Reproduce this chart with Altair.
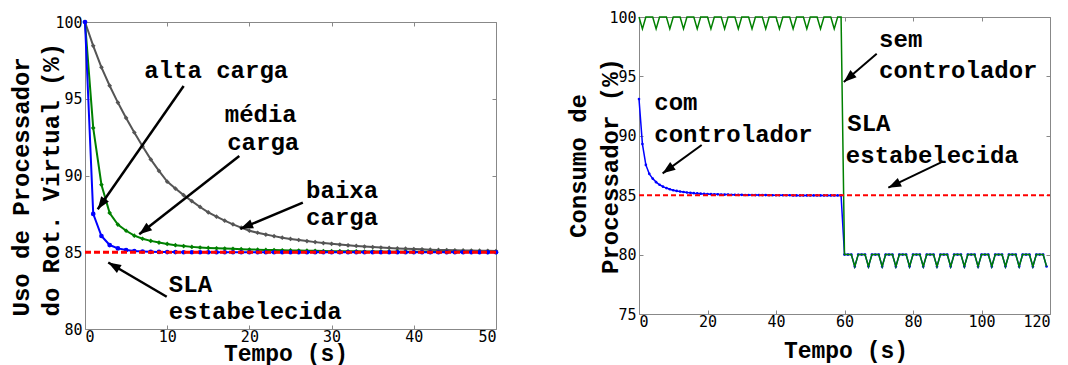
import math
import altair as alt
import pandas as pd

# ---------------- data: left panel ----------------
t_left = list(range(51))
alta = [100, 87.5, 86.06, 85.47, 85.25, 85.14, 85.08, 85.05, 85.03, 85.02, 85.01,
        85.01, 85.0, 85.0, 85.0, 85.0, 85.0, 85.0, 85.0, 85.0, 85.0,
        85.0, 85.0, 85.0, 85.0, 85.0, 85.0, 85.0, 85.0, 85.0, 85.0,
        85.0, 85.0, 85.0, 85.0, 85.0, 85.0, 85.0, 85.0, 85.0, 85.0,
        85.0, 85.0, 85.0, 85.0, 85.0, 85.0, 85.0, 85.0, 85.0, 85.0]
media = [100, 93.1, 89.4, 87.56, 86.8, 86.4, 86.08, 85.88, 85.74, 85.63, 85.54,
         85.46, 85.4, 85.35, 85.31, 85.28, 85.26, 85.24, 85.22, 85.2, 85.18,
         85.17, 85.15, 85.14, 85.13, 85.12, 85.11, 85.1, 85.09, 85.08, 85.07,
         85.07, 85.06, 85.06, 85.05, 85.05, 85.05, 85.04, 85.04, 85.04, 85.03,
         85.03, 85.03, 85.03, 85.02, 85.02, 85.02, 85.02, 85.02, 85.01, 85.01]
baixa = [100, 98.45, 97.05, 95.85, 94.75, 93.75, 92.8, 91.9, 91.05, 90.3, 89.6,
         89.15, 88.72, 88.33, 87.95, 87.6, 87.32, 87.06, 86.82, 86.6, 86.4,
         86.27, 86.15, 86.05, 85.95, 85.87, 85.8, 85.73, 85.66, 85.6, 85.55,
         85.5, 85.45, 85.41, 85.37, 85.34, 85.31, 85.28, 85.25, 85.23, 85.21,
         85.19, 85.17, 85.15, 85.14, 85.13, 85.12, 85.11, 85.1, 85.09, 85.08]
sla_left_t = [0, 50]
sla_left_v = [85, 85]

left_text = ["alta carga", "média", "carga", "baixa", "carga", "SLA", "estabelecida"]
left_text_x = [7.2, 17.0, 17.3, 26.9, 26.9, 10.2, 10.2]
left_text_y = [96.33, 93.5, 91.66, 88.55, 86.78, 82.41, 80.63]
left_arrow_x1 = [12.0, 18.77, 26.5, 9.94]
left_arrow_y1 = [95.83, 91.27, 88.23, 82.1]
left_arrow_x2 = [1.55, 6.6, 18.9, 2.83]
left_arrow_y2 = [87.8, 86.17, 86.53, 84.33]

# ---------------- data: right panel ----------------
t_right = list(range(120))
com_ctrl = [93.1, 89.3, 87.55, 86.8, 86.4, 86.1, 85.88, 85.72, 85.6, 85.5,
            85.42, 85.36, 85.31, 85.27, 85.23, 85.2, 85.17, 85.15, 85.13, 85.11,
            85.1, 85.09, 85.08, 85.07, 85.06, 85.05, 85.05, 85.04, 85.04, 85.03,
            85.03, 85.02, 85.02, 85.02, 85.01, 85.01, 85.01, 85.01, 85.0, 85.0,
            85.0, 85.0, 85.0, 85.0, 85.0, 84.98, 84.98, 84.98, 84.98, 84.98,
            84.98, 84.98, 84.98, 84.98, 84.98, 84.98, 84.98, 84.98, 84.98, 84.98,
            80, 80, 80, 79, 80, 80, 80, 79, 80, 80, 80, 79, 80, 80, 80, 79,
            80, 80, 80, 79, 80, 80, 80, 79, 80, 80, 80, 79, 80, 80, 80, 79,
            80, 80, 80, 79, 80, 80, 80, 79, 80, 80, 80, 79, 80, 80, 80, 79,
            80, 80, 80, 79, 80, 80, 80, 79, 80, 80, 80, 79]
sem_ctrl = [100, 99, 100, 100, 100, 99, 100, 100, 100, 99, 100, 100,
            100, 99, 100, 100, 100, 99, 100, 100, 100, 99, 100, 100,
            100, 99, 100, 100, 100, 99, 100, 100, 100, 99, 100, 100,
            100, 99, 100, 100, 100, 99, 100, 100, 100, 99, 100, 100,
            100, 99, 100, 100, 100, 99, 100, 100, 100, 99, 100, 100,
            80, 80, 80, 79, 80, 80, 80, 79, 80, 80, 80, 79, 80, 80, 80, 79,
            80, 80, 80, 79, 80, 80, 80, 79, 80, 80, 80, 79, 80, 80, 80, 79,
            80, 80, 80, 79, 80, 80, 80, 79, 80, 80, 80, 79, 80, 80, 80, 79,
            80, 80, 80, 79, 80, 80, 80, 79, 80, 80, 80, 79]
sla_right_t = [0, 120]
sla_right_v = [85, 85]

right_text = ["sem", "controlador", "com", "controlador", "SLA", "estabelecida"]
right_text_x = [70.1, 70.1, 4.47, 4.47, 60.8, 60.4]
right_text_y = [97.5, 94.84, 92.14, 89.5, 90.4, 87.74]
right_arrow_x1 = [69.4, 18.3, 88.2]
right_arrow_y1 = [96.91, 89.23, 87.77]
right_arrow_x2 = [59.8, 6.9, 72.8]
right_arrow_y2 = [94.53, 86.84, 85.63]

# ---------------- styling ----------------
MONO_B = "Liberation Mono"
TICK_FONT = "DejaVu Sans Mono"
GRAY = "#888888"
W = 411
H_L = 307
H_R = 297
ARROW_PATH = "M0,0L0.7,1.9L-0.7,1.9Z"


def axis_main_x(values, title_x, title_y):
    return alt.Axis(orient="bottom", values=values, grid=False, domain=False,
                    offset=-4, tickSize=4, tickColor=GRAY, labelFont=TICK_FONT,
                    labelFontSize=15, labelColor="black", labelPadding=0,
                    title="Tempo (s)", titleFont=MONO_B, titleFontSize=23,
                    titleFontWeight="bold", titleColor="black",
                    titleX=title_x, titleY=title_y, titleBaseline="alphabetic",
                    titleAlign="center")


def axis_main_y(values, title, title_x, title_y, align, lh):
    return alt.Axis(orient="left", values=values, grid=False, domain=False,
                    offset=-4, tickSize=4, tickColor=GRAY, labelFont=TICK_FONT,
                    labelFontSize=15, labelColor="black", labelPadding=3,
                    title=title, titleFont=MONO_B, titleFontSize=24,
                    titleFontWeight="bold", titleColor="black", titleAngle=270,
                    titleX=title_x, titleY=title_y, titleAlign=align,
                    titleBaseline="top", titleLineHeight=lh)


def axis_ticks(orient, values):
    return alt.Axis(orient=orient, values=values, grid=False, domain=False,
                    offset=-4, tickSize=4, tickColor=GRAY, labels=False,
                    title=None)


def panel(xdom, ydom, xvals, yvals, series, sla_t, sla_v, sla_w, sla_dash,
          texts, tx, ty, ax1, ay1, ax2, ay2, arrow_w, height, ytitle,
          ytx, yty, yalign, ylh, xtx, xty):
    xs = alt.Scale(domain=xdom, nice=False, zero=False)
    ys = alt.Scale(domain=ydom, nice=False, zero=False)
    layers = []
    first = True
    for (ts, vs, color, lw, shape, msize) in series:
        df = pd.DataFrame({"t": ts, "v": vs})
        if first:
            xenc = alt.X("t:Q", scale=xs, axis=axis_main_x(xvals, xtx, xty))
            yenc = alt.Y("v:Q", scale=ys,
                         axis=axis_main_y(yvals, ytitle, ytx, yty, yalign, ylh))
            first = False
        else:
            xenc = alt.X("t:Q", scale=xs, axis=None)
            yenc = alt.Y("v:Q", scale=ys, axis=None)
        base = alt.Chart(df).encode(x=xenc, y=yenc)
        layers.append(base.mark_line(color=color, strokeWidth=lw))
        if msize > 0:
            layers.append(alt.Chart(df).mark_point(
                shape=shape, filled=True, color=color, size=msize, opacity=1
            ).encode(x=alt.X("t:Q", scale=xs, axis=None),
                     y=alt.Y("v:Q", scale=ys, axis=None)))
    # SLA dashed line, also carries the top/right inward ticks
    sla_df = pd.DataFrame({"t": sla_t, "v": sla_v})
    layers.append(alt.Chart(sla_df).mark_line(
        color="#ff0000", strokeWidth=sla_w, strokeDash=sla_dash
    ).encode(x=alt.X("t:Q", scale=xs, axis=axis_ticks("top", xvals)),
             y=alt.Y("v:Q", scale=ys, axis=axis_ticks("right", yvals))))
    # arrows
    pxx = W / (xdom[1] - xdom[0])
    pxy = height / (ydom[1] - ydom[0])
    angles = []
    for a, b, c, d in zip(ax1, ay1, ax2, ay2):
        dx = (c - a) * pxx
        dys = -(d - b) * pxy
        angles.append(math.degrees(math.atan2(dx, -dys)) % 360)
    adf = pd.DataFrame({"x1": ax1, "y1": ay1, "x2": ax2, "y2": ay2, "ang": angles})
    layers.append(alt.Chart(adf).mark_rule(color="black", strokeWidth=arrow_w).encode(
        x=alt.X("x1:Q", scale=xs, axis=None), y=alt.Y("y1:Q", scale=ys, axis=None),
        x2="x2:Q", y2="y2:Q"))
    layers.append(alt.Chart(adf).mark_point(
        shape=ARROW_PATH, filled=True, color="black", size=180, opacity=1,
        strokeWidth=0
    ).encode(x=alt.X("x2:Q", scale=xs, axis=None),
             y=alt.Y("y2:Q", scale=ys, axis=None),
             angle=alt.Angle("ang:Q", scale=None)))
    tdf = pd.DataFrame({"x": tx, "y": ty, "label": texts})
    layers.append(alt.Chart(tdf).mark_text(
        font=MONO_B, fontSize=24, fontWeight="bold", color="black",
        align="left", baseline="alphabetic"
    ).encode(x=alt.X("x:Q", scale=xs, axis=None),
             y=alt.Y("y:Q", scale=ys, axis=None), text="label:N"))
    return alt.layer(*layers).resolve_axis(x="independent", y="independent").properties(
        width=W, height=height)


left = panel(
    [0, 50], [80, 100], [0, 10, 20, 30, 40, 50], [80, 85, 90, 95, 100],
    [(t_left, baixa, "#555555", 2, "diamond", 22),
     (t_left, media, "#008000", 2, "diamond", 22),
     (t_left, alta, "#0000ff", 2, "circle", 22)],
    sla_left_t, sla_left_v, 3, [6, 3],
    left_text, left_text_x, left_text_y,
    left_arrow_x1, left_arrow_y1, left_arrow_x2, left_arrow_y2, 2.5,
    H_L, ["Uso de Processador", "do Rot. Virtual (%)"], -80, 294, "left", 30,
    200.5, 35,
)

right = panel(
    [0, 120], [75, 100], [0, 20, 40, 60, 80, 100, 120], [75, 80, 85, 90, 95, 100],
    [(t_right, com_ctrl, "#0000ff", 1.5, "circle", 7),
     (t_right, sem_ctrl, "#008000", 1.5, "circle", 0)],
    sla_right_t, sla_right_v, 2, [5, 3],
    right_text, right_text_x, right_text_y,
    right_arrow_x1, right_arrow_y1, right_arrow_x2, right_arrow_y2, 2,
    H_R, ["Consumo de", "Processador (%)"], -77, 148.5, "center", 32,
    206.5, 47,
)

# empty spacer that lowers the left panel a few pixels relative to the right one
spacer = alt.Chart(pd.DataFrame({"v": [0]})).mark_point(
    opacity=0, size=0
).encode(x=alt.value(0), y=alt.value(0)).properties(
    width=W, height=1, view=alt.ViewBackground(stroke=None))

left_col = alt.vconcat(spacer, left, spacing=-4)

chart = alt.hconcat(left_col, right, spacing=62).properties(
    padding={"left": 0, "top": 1, "right": 0, "bottom": 4}
).configure_view(stroke=GRAY, strokeWidth=1)

chart.save("out.html", embed_options={"renderer": "svg", "actions": False})
